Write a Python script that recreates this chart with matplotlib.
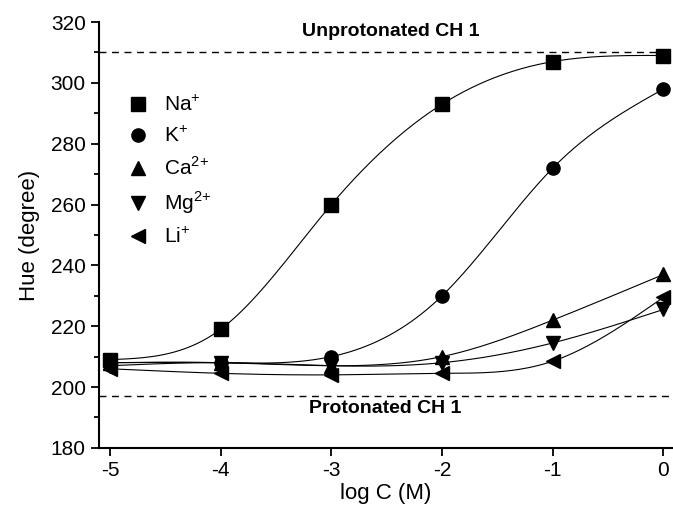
"""Hue response of CH 1 to alkali and alkaline-earth cations."""

import matplotlib

matplotlib.use("Agg")
import matplotlib.pyplot as plt
import numpy as np

LOG_C = [-5, -4, -3, -2, -1, 0]
NA = [209, 219, 260, 293, 307, 309]
K = [208, 208, 210, 230, 272, 298]
CA = [208, 208, 207, 210, 222, 237]
MG = [207, 208, 207, 208, 214.5, 225.5]
LI = [206, 204.5, 204, 204.5, 208.5, 229.5]

UNPROTONATED = 310
PROTONATED = 197

SERIES = [
    ("Na$^{+}$", NA, "s"),
    ("K$^{+}$", K, "o"),
    ("Ca$^{2{+}}$", CA, "^"),
    ("Mg$^{2{+}}$", MG, "v"),
    ("Li$^{+}$", LI, "<"),
]


def natural_spline(x, y, n=200):
    """Smooth connecting line through the points (natural cubic spline)."""
    x = np.asarray(x, float)
    y = np.asarray(y, float)
    m = len(x)
    h = np.diff(x)
    A = np.zeros((m, m))
    b = np.zeros(m)
    A[0, 0] = A[-1, -1] = 1.0
    for i in range(1, m - 1):
        A[i, i - 1] = h[i - 1]
        A[i, i] = 2 * (h[i - 1] + h[i])
        A[i, i + 1] = h[i]
        b[i] = 6 * ((y[i + 1] - y[i]) / h[i] - (y[i] - y[i - 1]) / h[i - 1])
    M = np.linalg.solve(A, b)
    xs = np.linspace(x[0], x[-1], n)
    idx = np.clip(np.searchsorted(x, xs) - 1, 0, m - 2)
    x0, x1 = x[idx], x[idx + 1]
    hi = x1 - x0
    t0, t1 = x1 - xs, xs - x0
    ys = (M[idx] * t0**3 + M[idx + 1] * t1**3) / (6 * hi) \
        + (y[idx] / hi - M[idx] * hi / 6) * t0 \
        + (y[idx + 1] / hi - M[idx + 1] * hi / 6) * t1
    return xs, ys


plt.rcParams["font.family"] = ["Liberation Sans", "DejaVu Sans"]
plt.rcParams["mathtext.fontset"] = "custom"
plt.rcParams["mathtext.rm"] = "Liberation Sans"

fig = plt.figure(figsize=(6.73, 5.13), dpi=100)
ax = fig.add_axes([0.147, 0.127, 0.852, 0.830])

for label, values, marker in SERIES:
    xs, ys = natural_spline(LOG_C, values)
    ax.plot(xs, ys, color="black", lw=0.8)
    ax.plot(LOG_C, values, linestyle="none", marker=marker, color="black",
            markersize=9.5, label=label)

ax.axhline(UNPROTONATED, color="black", lw=1.0, ls=(0, (5, 4)))
ax.axhline(PROTONATED, color="black", lw=1.0, ls=(0, (5, 4)))
ax.text(-2.46, 317, "Unprotonated CH 1", ha="center", va="center",
        fontsize=14, fontweight="bold")
ax.text(-2.51, 193, "Protonated CH 1", ha="center", va="center",
        fontsize=14, fontweight="bold")

ax.set_xlim(-5.1, 0.08)
ax.set_ylim(180, 320)
ax.set_xticks(LOG_C)
ax.set_yticks(np.arange(180, 321, 20))
ax.set_yticks(np.arange(190, 320, 20), minor=True)
ax.set_xticklabels([str(v) for v in LOG_C])
ax.set_xlabel("log C (M)", fontsize=16, labelpad=2)
ax.set_ylabel("Hue (degree)", fontsize=16, labelpad=8)

for side in ("top", "right"):
    ax.spines[side].set_visible(False)
for side in ("left", "bottom"):
    ax.spines[side].set_linewidth(1.5)
ax.tick_params(which="major", direction="out", length=6, width=1.3, labelsize=15)
ax.tick_params(which="minor", direction="out", length=3.5, width=1.3)

ax.legend(loc="upper left", bbox_to_anchor=(0.015, 0.865), frameon=False,
          fontsize=15, handletextpad=0.5, labelspacing=0.5, borderaxespad=0.3,
          handlelength=1.5)

fig.savefig("out.png", dpi=100)
